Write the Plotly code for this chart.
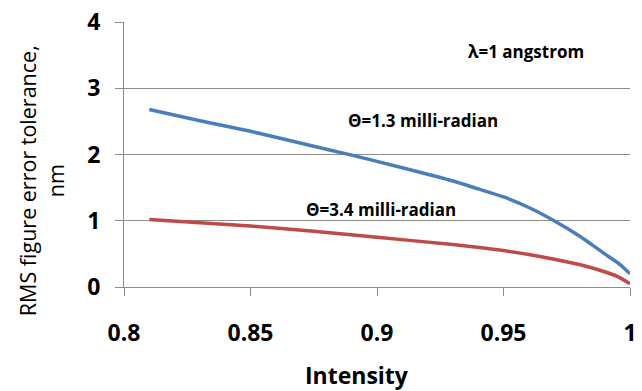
import plotly.graph_objects as go

# Data
intensity_13 = [0.81, 0.83, 0.85, 0.87, 0.89, 0.91, 0.93, 0.94, 0.95, 0.96, 0.97, 0.98, 0.986, 0.99, 0.995, 1.0]
rms_13 = [2.68, 2.51, 2.35, 2.17, 1.99, 1.80, 1.60, 1.48, 1.36, 1.20, 1.00, 0.77, 0.61, 0.50, 0.37, 0.20]

intensity_34 = [0.81, 0.85, 0.875, 0.90, 0.93, 0.95, 0.96, 0.97, 0.98, 0.99, 0.995, 1.0]
rms_34 = [1.02, 0.92, 0.84, 0.75, 0.64, 0.55, 0.49, 0.42, 0.34, 0.23, 0.16, 0.05]

x_ticks = [0.8, 0.85, 0.9, 0.95, 1.0]
x_tick_labels = ["0.8", "0.85", "0.9", "0.95", "1"]
y_ticks = [0, 1, 2, 3, 4]

BLUE = "#4a7ebb"
RED = "#be4b48"
GRID = "#8c8c8c"
FONT = "Open Sans"

W, H = 642, 391
L, R, T, B = 124, 5, 17, 104
PW, PH = W - L - R, H - T - B

fig = go.Figure()
fig.add_trace(go.Scatter(x=intensity_13, y=rms_13, mode="lines",
                         line=dict(color=BLUE, width=3.5, shape="spline", smoothing=0.6),
                         showlegend=False, hoverinfo="skip", cliponaxis=False))
fig.add_trace(go.Scatter(x=intensity_34, y=rms_34, mode="lines",
                         line=dict(color=RED, width=3.5, shape="spline", smoothing=0.6),
                         showlegend=False, hoverinfo="skip", cliponaxis=False))

fig.update_layout(
    width=W, height=H,
    margin=dict(l=L, r=R, t=T, b=B),
    paper_bgcolor="white", plot_bgcolor="white",
    font=dict(family=FONT, color="black"),
    xaxis=dict(range=[0.8, 1.0], tickvals=x_ticks, ticktext=x_tick_labels,
               showgrid=False, zeroline=False, showline=True, linecolor=GRID, linewidth=1.2,
               ticks="outside", ticklen=8, tickcolor=GRID, tickwidth=1.2,
               tickfont=dict(family=FONT, size=23, color="black", weight="bold"),
               ticklabelstandoff=17, ticklabeloverflow="allow"),
    yaxis=dict(range=[0, 4], tickvals=y_ticks,
               showgrid=True, gridcolor=GRID, gridwidth=1.2, zeroline=False,
               showline=True, linecolor=GRID, linewidth=1.2,
               ticks="outside", ticklen=8, tickcolor=GRID, tickwidth=1.2,
               tickfont=dict(family=FONT, size=23, color="black", weight="bold"),
               ticklabelstandoff=10),
)

# annotations placed in pixel coordinates of the 642x391 page
annots = [
    ("RMS figure error tolerance,<br>nm", 40, 179, -90, 21.5),
    ("<b>Intensity</b>", 360, 377, 0, 23),
    ("<b>λ=1 angstrom</b>", 532, 47, 0, 17),
    ("<b>Θ=1.3 milli-radian</b>", 427, 117, 0, 17),
    ("<b>Θ=3.4 milli-radian</b>", 385, 208, 0, 17),
]
for text, px, py, ang, size in annots:
    fig.add_annotation(text=text, x=(px - L) / PW, y=(H - B - py) / PH,
                       xref="paper", yref="paper", xanchor="center", yanchor="middle",
                       showarrow=False, textangle=ang,
                       font=dict(family=FONT, color="black", size=size))

fig.write_html("out.html")
